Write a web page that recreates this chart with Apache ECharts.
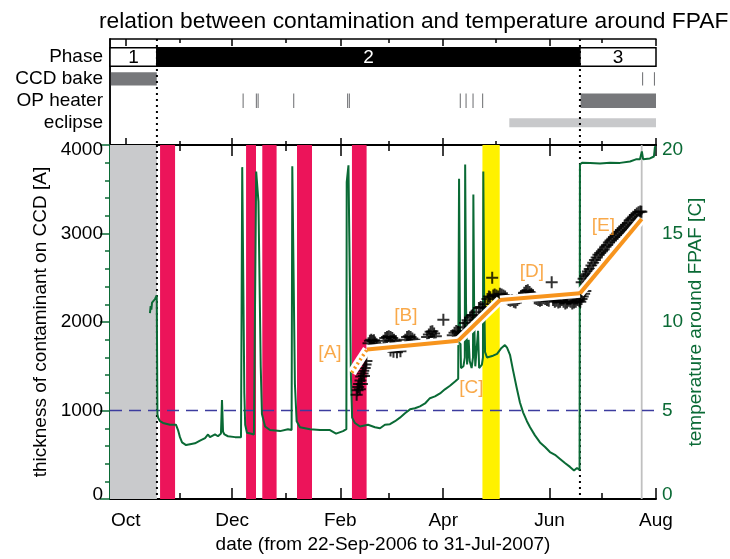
<!DOCTYPE html>
<html>
<head>
<meta charset="utf-8">
<script src="https://cdn.jsdelivr.net/npm/echarts@6/dist/echarts.min.js"></script>
<style>
  html, body { margin: 0; padding: 0; background: #ffffff; }
  #chart { width: 730px; height: 559px; }
</style>
</head>
<body>
<div id="chart"></div>
<script>
// Time is counted in days from 22-Sep-2006 (day 0); 1-Aug-2007 is day 313.
const dayMax = 313;
const majorMonthDays = [9, 70, 132, 191, 252, 313];
const majorMonthLabels = ['Oct', 'Dec', 'Feb', 'Apr', 'Jun', 'Aug'];
const minorMonthDays = [40, 101, 160, 221, 282];

// Timeline rows above the main plot
const timelineRows = ['Phase', 'CCD bake', 'OP heater', 'eclipse'];
const phases = [[0, 26.9, '1'], [26.9, 269.4, '2'], [269.4, 313, '3']];
const ccdBake = [[0.5, 26.8], [305.0, 305.5], [311.8, 312.3]];
const opHeater = [[76.0, 76.4], [83.6, 84.0], [84.6, 85.0], [105.0, 105.4], [135.9, 136.3],
  [136.9, 137.3], [200.5, 200.9], [203.8, 204.2], [207.8, 208.2], [213.3, 213.7], [269.8, 313]];
const eclipse = [[228.9, 313]];

// Periods shaded in the main plot
const phaseBoundaries = [26.9, 269.4];
const bakeMarkerDay = [304.8];
const periodGray = [[0, 26.9]];
const periodRed = [[28.7, 37.3], [78.0, 83.7], [87.3, 95.5], [107.2, 115.8], [138.7, 147.1]];
const periodYellow = [[213.5, 223.4]];
const thicknessThreshold = 1000;

// Contaminant thickness [A] measurements
const thicknessA = [[141.4, 1180], [141.9, 1230], [142.3, 1265], [142.8, 1300], [143.2, 1240], [143.6, 1340],
  [144.0, 1385], [144.4, 1300], [144.8, 1420], [145.2, 1450], [145.6, 1390], [146.0, 1480], [146.5, 1520], [147.0, 1560]];
const thicknessB = [[148.2, 1760], [149.0, 1790], [149.8, 1800], [150.5, 1785], [151.3, 1795], [152.0, 1770], [152.8, 1750],
  [156.8, 1790], [157.8, 1820], [158.8, 1830], [159.8, 1840], [160.8, 1830], [161.8, 1820], [162.8, 1800], [163.8, 1785],
  [160.8, 1680], [162.5, 1665], [164.5, 1660], [166.5, 1670],
  [169.3, 1800], [170.3, 1830], [171.3, 1840], [172.3, 1830], [173.3, 1815], [174.5, 1800],
  [181.8, 1830], [182.8, 1860], [183.8, 1890], [184.8, 1895], [185.8, 1870], [186.8, 1840],
  [191.1, 2025],
  [196.5, 1850], [197.5, 1880], [198.5, 1900], [199.5, 1890], [200.5, 1870]];
const thicknessC = [[202.5, 1940], [203.5, 1990], [205.0, 2020], [206.4, 2050], [207.3, 2070], [208.0, 2080],
  [210.0, 2110], [211.5, 2160], [212.5, 2170], [213.6, 2165], [215.0, 2200], [216.4, 2260], [217.2, 2290],
  [218.0, 2280], [219.1, 2500], [219.7, 2300], [220.5, 2310], [221.5, 2300]];
const thicknessD = [[222.5, 2290], [223.5, 2320], [224.5, 2310], [225.5, 2300], [226.5, 2290], [227.5, 2270],
  [228.5, 2250], [229.5, 2240], [230.5, 2250], [231.5, 2230], [232.5, 2220], [233.5, 2250], [234.5, 2270],
  [235.5, 2280], [236.5, 2300], [237.5, 2330], [238.5, 2350], [239.5, 2360], [240.5, 2340], [241.5, 2320],
  [242.5, 2300], [243.5, 2270], [244.5, 2260], [245.5, 2250], [246.5, 2240], [247.5, 2250], [248.5, 2270],
  [249.5, 2260], [250.5, 2250], [251.5, 2240], [253.2, 2450], [254.0, 2250], [255.0, 2230], [256.0, 2240],
  [257.0, 2220], [258.0, 2230], [259.0, 2250], [260.0, 2230], [261.0, 2210], [262.0, 2220], [263.0, 2240],
  [264.0, 2230], [265.0, 2210], [266.0, 2220], [267.0, 2230], [268.0, 2250], [269.0, 2240]];
const thicknessE = [[269.6, 2230], [270.3, 2260], [271.0, 2290], [271.8, 2320], [272.5, 2350],
  [270.4, 2450], [271.5, 2490], [272.5, 2520], [273.0, 2540], [274.0, 2570], [275.0, 2600], [276.0, 2640],
  [277.0, 2670], [278.0, 2700], [279.0, 2730], [280.0, 2760], [281.0, 2780], [282.0, 2800], [283.0, 2820],
  [284.0, 2850], [285.0, 2870], [286.0, 2900], [287.0, 2920], [288.0, 2940], [289.0, 2960], [290.0, 2980],
  [291.0, 3000], [292.0, 3020], [293.0, 3040], [294.0, 3060], [295.0, 3080], [296.0, 3100], [297.0, 3120],
  [298.0, 3150], [299.0, 3170], [300.0, 3190], [301.0, 3210], [302.0, 3225], [303.0, 3240], [304.0, 3250], [304.6, 3245]];

// Piecewise linear fits [A]..[E]
const fitA = [[138.6, 1428], [147.3, 1690]];
const fitB = [[147.3, 1690], [199.7, 1790]];
const fitC = [[199.7, 1790], [223.6, 2249]];
const fitD = [[223.6, 2249], [269.4, 2324]];
const fitE = [[269.4, 2324], [304.8, 3164]];
const fitLabels = [['[A]', 126.1, 1652], ['[B]', 169.6, 2072], ['[C]', 207.1, 1260], ['[D]', 241.9, 2567], ['[E]', 282.8, 3089]];

// Temperature around FPAF [C]
const temperature = [[22.9, 10.5], [23.3, 10.9], [23.7, 10.7], [24.1, 11.1], [24.6, 11.2], [25.2, 11.1], [25.8, 11.3],
  [26.3, 11.4], [26.8, 11.5], [27.1, 11.6],
  [27.2, 4.8], [27.6, 4.6], [28.7, 4.4], [30.4, 4.3], [34.4, 4.2], [37.8, 4.2], [39.0, 3.9], [40.1, 3.5], [41.3, 3.2],
  [43.6, 3.05], [45.9, 3.1], [48.7, 3.15], [51.6, 3.3], [54.5, 3.45], [56.2, 3.65], [57.3, 3.5], [60.2, 3.65],
  [61.9, 3.55], [63.6, 3.7], [64.2, 5.6], [64.8, 3.8], [65.6, 3.65], [67.6, 3.55], [71.7, 3.5], [75.1, 3.5],
  [75.8, 18.75], [76.6, 18.7], [77.0, 6.0], [77.5, 4.2], [78.5, 3.75], [80.5, 3.7], [82.5, 3.65],
  [83.6, 3.7], [83.8, 18.5], [84.9, 18.5], [85.1, 16.8], [86.1, 16.7], [86.4, 7.5], [87.1, 4.8], [88.9, 4.1],
  [91.7, 3.9], [97.5, 3.84], [102.0, 3.95], [104.1, 3.9],
  [104.5, 18.8], [105.5, 18.7], [106.0, 6.5], [107.0, 4.4], [108.9, 4.06], [114.7, 3.95], [120.4, 3.9],
  [126.1, 3.9], [129.6, 3.7], [133.6, 3.84], [135.5, 3.95],
  [135.7, 17.9], [136.5, 17.9], [136.7, 18.85], [137.6, 18.75], [138.1, 7.0], [138.8, 4.6], [140.4, 4.3],
  [143.3, 4.1], [147.9, 4.2], [151.9, 4.06], [154.8, 4.0], [157.6, 4.2], [160.5, 4.23], [163.4, 4.4],
  [166.2, 4.6], [169.1, 4.85], [172.0, 5.07], [174.8, 5.13], [177.7, 5.24], [180.6, 5.4], [183.4, 5.7],
  [186.3, 5.8], [189.2, 5.97], [192.0, 6.2], [194.9, 6.4], [197.8, 6.64], [199.6, 6.8],
  [200.1, 18.1], [200.6, 10.5], [201.2, 7.4], [202.6, 7.5], [203.4, 8.0],
  [203.6, 18.9], [204.1, 11.0], [204.7, 7.6], [205.6, 9.0], [206.2, 7.8], [207.3, 7.4], [208.1, 8.0],
  [208.3, 17.2], [208.8, 10.0], [209.4, 7.5], [210.4, 7.6], [211.0, 9.5], [211.6, 7.4], [213.2, 7.6], [213.8, 8.0],
  [214.0, 18.5], [214.5, 11.5], [215.0, 8.3], [216.1, 8.0], [219.6, 8.1], [221.9, 8.2], [224.1, 8.5],
  [226.4, 8.7], [227.6, 8.55], [229.3, 8.15], [231.0, 7.3], [233.1, 6.3], [235.0, 5.46], [236.8, 4.9],
  [239.0, 4.4], [240.8, 4.06], [243.6, 3.6], [246.5, 3.2], [249.4, 2.94], [252.2, 2.66], [255.1, 2.5],
  [258.0, 2.27], [260.8, 2.04], [263.7, 1.82], [266.0, 1.62], [267.7, 1.76], [269.2, 1.65],
  [269.4, 18.9], [270.6, 19.0], [275.2, 18.99], [280.9, 18.96], [286.6, 19.0], [292.4, 18.99], [298.1, 19.07],
  [301.5, 19.19], [303.8, 19.19], [304.9, 19.64], [305.6, 19.2], [309.5, 19.24], [311.8, 19.35], [312.4, 19.9], [313.0, 19.9]];

const GREEN = '#0a6a35';
const ORANGE = '#f7941d';
const FONT = '"Liberation Sans", Arial, Helvetica, sans-serif';

const chart = echarts.init(document.getElementById('chart'), null, { renderer: 'canvas' });

function xAxisFor(gridIndex, position, ticks, tickLen, withLine, lineWidth) {
  return {
    type: 'value', gridIndex, position, min: 0, max: dayMax,
    splitLine: { show: false },
    axisLine: { show: withLine, onZero: false, lineStyle: { color: '#000', width: lineWidth } },
    axisTick: { show: true, inside: true, length: tickLen, customValues: ticks, lineStyle: { color: '#000', width: 1.5 } },
    axisLabel: { show: false }
  };
}

// Rectangle spanning one timeline row
function rowRenderer(row, height, fill) {
  return function (params, api) {
    const a = api.coord([api.value(0), row]);
    const b = api.coord([api.value(1), row]);
    return {
      type: 'rect',
      shape: { x: a[0], y: a[1] - height / 2, width: Math.max(b[0] - a[0], 1.1), height },
      style: { fill }
    };
  };
}

function phaseRenderer(params, api) {
  const a = api.coord([api.value(0), 0]);
  const b = api.coord([api.value(1), 0]);
  const label = phases[params.dataIndex][2];
  const dark = params.dataIndex === 1;
  return {
    type: 'group',
    children: [
      { type: 'rect', shape: { x: a[0], y: a[1] - 9.25, width: b[0] - a[0], height: 18.5 },
        style: { fill: dark ? '#000' : '#fff', stroke: '#000', lineWidth: 1.5 } },
      { type: 'text', style: { text: label, x: (a[0] + b[0]) / 2, y: a[1] + 1, align: 'center', verticalAlign: 'middle',
        fill: dark ? '#fff' : '#000', font: '19px ' + FONT } }
    ]
  };
}

function bandRenderer(fill) {
  return function (params, api) {
    const a = api.coord([api.value(0), 0]);
    const b = api.coord([api.value(1), 0]);
    const cs = params.coordSys;
    return { type: 'rect', shape: { x: a[0], y: cs.y, width: b[0] - a[0], height: cs.height }, style: { fill } };
  };
}

function vlineRenderer(stroke, width, dash) {
  return function (params, api) {
    const x = api.coord([api.value(0), 0])[0];
    const cs = params.coordSys;
    return { type: 'line', shape: { x1: x, y1: cs.y, x2: x, y2: cs.y + cs.height },
      style: { stroke, lineWidth: width, lineDash: dash } };
  };
}

function hlineRenderer(params, api) {
  const y = api.coord([0, api.value(1)])[1];
  const cs = params.coordSys;
  return { type: 'line', shape: { x1: cs.x, y1: y, x2: cs.x + cs.width, y2: y },
    style: { stroke: '#3c3c9e', lineWidth: 1.5, lineDash: [12, 7] } };
}

const crossPath = 'path://M5,0H7V5H12V7H7V12H5V7H0V5H5Z';
const pairs = (list) => list.map(d => [d[0], d[1]]);
const dayMarks = (list) => list.map(d => [d, 0]);

const fitSeries = [];
[fitA, fitB, fitC, fitD, fitE].forEach((fit) => {
  fitSeries.push({
    type: 'line', xAxisIndex: 4, yAxisIndex: 2, data: fit, showSymbol: false, symbol: 'none', z: 5,
    lineStyle: { color: '#ffffff', width: 9, cap: 'butt' }, silent: true
  });
});
[fitA, fitB, fitC, fitD, fitE].forEach((fit, i) => {
  fitSeries.push({
    type: 'line', xAxisIndex: 4, yAxisIndex: 2, data: fit, showSymbol: false, symbol: 'none', z: 6,
    lineStyle: { color: ORANGE, width: i === 0 ? 3.5 : 4, type: i === 0 ? [2, 3] : 'solid', cap: 'butt' }, silent: true
  });
});

const edgeLabels = { verticalAlignMinLabel: 'bottom', verticalAlignMaxLabel: 'top', lineHeight: 9 };

const option = {
  animation: false,
  backgroundColor: '#ffffff',
  textStyle: { fontFamily: FONT },
  title: {
    text: 'relation between contamination and temperature around FPAF',
    left: 94, top: 5,
    textStyle: { fontSize: 22.8, fontWeight: 'normal', color: '#000', fontFamily: FONT }
  },
  grid: [
    { left: 110, right: 74, top: 39, height: 106 },
    { left: 110, right: 74, top: 145, height: 357.5 }
  ],
  xAxis: [
    xAxisFor(0, 'bottom', majorMonthDays, 7, true, 1.5),
    xAxisFor(0, 'bottom', minorMonthDays, 4, false, 1.5),
    xAxisFor(0, 'top', majorMonthDays, 7, true, 1.5),
    xAxisFor(0, 'top', minorMonthDays, 4, false, 1.5),
    Object.assign(xAxisFor(1, 'bottom', majorMonthDays, 11, true, 2), {
      axisLabel: {
        show: true, customValues: majorMonthDays, margin: 12,
        formatter: (v) => majorMonthLabels[majorMonthDays.indexOf(v)],
        fontSize: 19, color: '#000', fontFamily: FONT
      },
      name: 'date (from 22-Sep-2006 to 31-Jul-2007)',
      nameLocation: 'middle', nameGap: 28,
      nameTextStyle: { fontSize: 19, color: '#000', fontFamily: FONT }
    }),
    xAxisFor(1, 'bottom', minorMonthDays, 6, false, 2),
    xAxisFor(1, 'top', majorMonthDays, 11, true, 2),
    xAxisFor(1, 'top', minorMonthDays, 6, false, 2)
  ],
  yAxis: [
    {
      type: 'value', gridIndex: 0, position: 'left', min: -0.822, max: 4.018, inverse: true,
      splitLine: { show: false },
      axisLine: { show: true, lineStyle: { color: '#000', width: 1.5 } },
      axisTick: { show: false },
      axisLabel: {
        show: true, customValues: [0, 1, 2, 3], formatter: (v) => timelineRows[v],
        fontSize: 19, color: '#000', margin: 7, fontFamily: FONT
      }
    },
    {
      type: 'value', gridIndex: 0, position: 'right', min: -0.822, max: 4.018, inverse: true,
      splitLine: { show: false },
      axisLine: { show: true, lineStyle: { color: '#000', width: 1.5 } },
      axisTick: { show: false }, axisLabel: { show: false }
    },
    {
      type: 'value', gridIndex: 1, position: 'left', min: 0, max: 4000, interval: 1000,
      splitLine: { show: false },
      axisLine: { show: true, lineStyle: { color: '#000', width: 2 } },
      axisTick: { show: true, inside: true, length: 10, lineStyle: { color: '#000', width: 1.5 } },
      minorTick: { show: true, splitNumber: 10, length: 5, lineStyle: { color: '#000', width: 1.5 } },
      axisLabel: Object.assign({ fontSize: 19, color: '#000', margin: 7, fontFamily: FONT,
        formatter: (v) => String(v) }, edgeLabels),
      name: 'thickness of contaminant on CCD [A]',
      nameLocation: 'middle', nameGap: 60, nameRotate: 90,
      nameTextStyle: { fontSize: 19, color: '#000', fontFamily: FONT }
    },
    {
      type: 'value', gridIndex: 1, position: 'right', min: 0, max: 20, interval: 5,
      splitLine: { show: false },
      axisLine: { show: true, lineStyle: { color: GREEN, width: 2 } },
      axisTick: { show: true, inside: true, length: 10, lineStyle: { color: GREEN, width: 1.5 } },
      minorTick: { show: true, splitNumber: 5, length: 5, lineStyle: { color: GREEN, width: 1.5 } },
      axisLabel: Object.assign({ fontSize: 19, color: GREEN, margin: 6, fontFamily: FONT }, edgeLabels),
      name: 'temperature around FPAF [C]',
      nameLocation: 'middle', nameGap: 30, nameRotate: 90, nameMoveOverlap: false,
      nameTextStyle: { fontSize: 19, color: GREEN, fontFamily: FONT }
    }
  ],
  series: [
    // timeline panel
    { type: 'custom', xAxisIndex: 0, yAxisIndex: 0, renderItem: phaseRenderer, data: phases.map(p => [p[0], p[1]]), z: 3, silent: true },
    { type: 'custom', xAxisIndex: 0, yAxisIndex: 0, renderItem: rowRenderer(1, 13.4, '#77787b'), data: pairs(ccdBake), z: 3, silent: true },
    { type: 'custom', xAxisIndex: 0, yAxisIndex: 0, renderItem: rowRenderer(2, 14.4, '#77787b'), data: pairs(opHeater), z: 3, silent: true },
    { type: 'custom', xAxisIndex: 0, yAxisIndex: 0, renderItem: rowRenderer(3, 9, '#c8c9cb'), data: pairs(eclipse), z: 3, silent: true },
    { type: 'custom', xAxisIndex: 0, yAxisIndex: 0, renderItem: vlineRenderer('#000', 2, [2, 4]), data: dayMarks(phaseBoundaries), z: 4, silent: true },
    // main panel: shaded periods and reference lines
    { type: 'custom', xAxisIndex: 4, yAxisIndex: 2, renderItem: bandRenderer('#c9cacc'), data: pairs(periodGray), z: 1, silent: true },
    { type: 'custom', xAxisIndex: 4, yAxisIndex: 2, renderItem: bandRenderer('#ec145a'), data: pairs(periodRed), z: 1, silent: true },
    { type: 'custom', xAxisIndex: 4, yAxisIndex: 2, renderItem: bandRenderer('#fff100'), data: pairs(periodYellow), z: 1, silent: true },
    { type: 'custom', xAxisIndex: 4, yAxisIndex: 2, renderItem: vlineRenderer('#c0c0c0', 1.8, null), data: dayMarks(bakeMarkerDay), z: 2, silent: true },
    { type: 'custom', xAxisIndex: 4, yAxisIndex: 2, renderItem: vlineRenderer('#000', 2, [2, 4]), data: dayMarks(phaseBoundaries), z: 2, silent: true },
    { type: 'custom', xAxisIndex: 4, yAxisIndex: 2, renderItem: hlineRenderer, data: [[0, thicknessThreshold]], z: 2, silent: true },
    // temperature
    {
      type: 'line', xAxisIndex: 4, yAxisIndex: 3, data: temperature, showSymbol: false, symbol: 'none', z: 3,
      lineStyle: { color: GREEN, width: 2 }, silent: true
    },
    // thickness measurements
    {
      type: 'scatter', xAxisIndex: 4, yAxisIndex: 2, z: 4, silent: true,
      data: [].concat(thicknessA, thicknessB, thicknessC, thicknessD, thicknessE),
      symbol: crossPath, symbolSize: 12, itemStyle: { color: '#000' }
    },
    ...fitSeries,
    {
      type: 'scatter', xAxisIndex: 4, yAxisIndex: 2, z: 7, silent: true, symbolSize: 0,
      data: fitLabels.map(l => ({ name: l[0], value: [l[1], l[2]] })),
      label: { show: true, position: 'inside', formatter: (p) => p.name, color: ORANGE, fontSize: 19, fontFamily: FONT }
    }
  ]
};

chart.setOption(option);
</script>
</body>
</html>
